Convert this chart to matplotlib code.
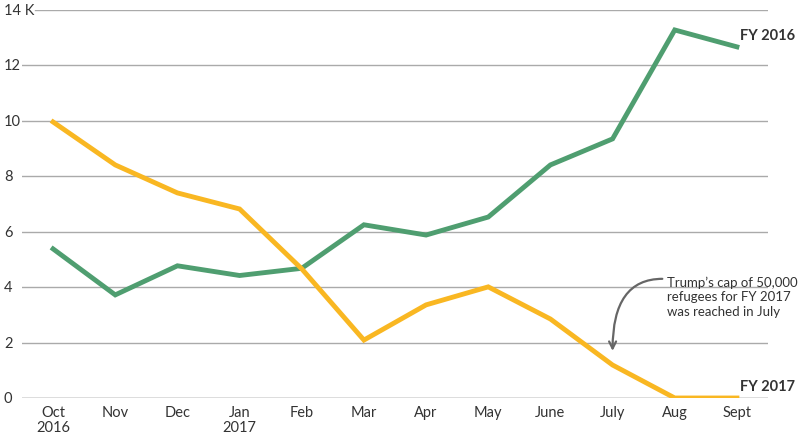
import matplotlib.pyplot as plt
from matplotlib.transforms import blended_transform_factory

plt.rcParams['font.family'] = ['Lato', 'DejaVu Sans']

months = ["Oct\n2016", "Nov", "Dec", "Jan\n2017", "Feb", "Mar", "Apr", "May", "June", "July", "Aug", "Sept"]
fy2016 = [5.38, 3.72, 4.77, 4.42, 4.68, 6.25, 5.88, 6.53, 8.41, 9.35, 13.28, 12.67]
fy2017 = [9.96, 8.41, 7.40, 6.82, 4.66, 2.09, 3.36, 4.01, 2.85, 1.19, 0.0, 0.0]
yticks = [0, 2, 4, 6, 8, 10, 12, 14]
ylabels = ["0", "2", "4", "6", "8", "10", "12", "14 K"]

green = "#4f9e70"
yellow = "#f9b722"
txt = "#333333"

fig = plt.figure(figsize=(8, 4.35), dpi=100)
ax = fig.add_axes([22/800, 36/435, 746/800, 388/435])
x = list(range(len(months)))
ax.set_xlim(-0.5, 11.5)
ax.set_ylim(0, 14)

for v in yticks:
    start = 13/746 if v == 14 else 0
    ax.axhline(v, xmin=start, xmax=1, color="#555555" if v == 0 else "#aaaaaa", lw=1.0, zorder=1)
trans = blended_transform_factory(fig.transFigure, ax.transData)
for v, lab in zip(yticks, ylabels):
    ax.text(4/800, v, lab, transform=trans, ha="left", va="center", fontsize=10.5, color=txt)

ax.plot(x, fy2016, color=green, lw=3.5, solid_joinstyle="miter", zorder=3)
ax.plot(x, fy2017, color=yellow, lw=3.5, solid_joinstyle="miter", zorder=3)

ax.set_xticks(x)
ax.set_xticklabels(months, fontsize=10.5, color=txt, linespacing=1.1)
ax.tick_params(axis="x", length=0, pad=5)
ax.set_yticks([])
for s in ax.spines.values():
    s.set_visible(False)

ax.text(11.05, 13.1, "FY 2016", fontsize=10.5, fontweight="bold", color=txt, va="center")
ax.text(11.05, 0.45, "FY 2017", fontsize=10.5, fontweight="bold", color=txt, va="center")

fig.text(667/800, (435 - 297)/435,
         "Trump\u2019s cap of 50,000\nrefugees for FY 2017\nwas reached in July",
         fontsize=9.5, color=txt, va="center", ha="left", linespacing=1.25)
ax.annotate("", xy=(9.0, 1.7), xytext=(9.8, 4.3),
            arrowprops=dict(arrowstyle="->,head_length=0.5,head_width=0.25", color="#666666", lw=1.6,
                            connectionstyle="angle3,angleA=0,angleB=90", shrinkA=0, shrinkB=0))

fig.savefig("out.png", dpi=100, facecolor="white")
